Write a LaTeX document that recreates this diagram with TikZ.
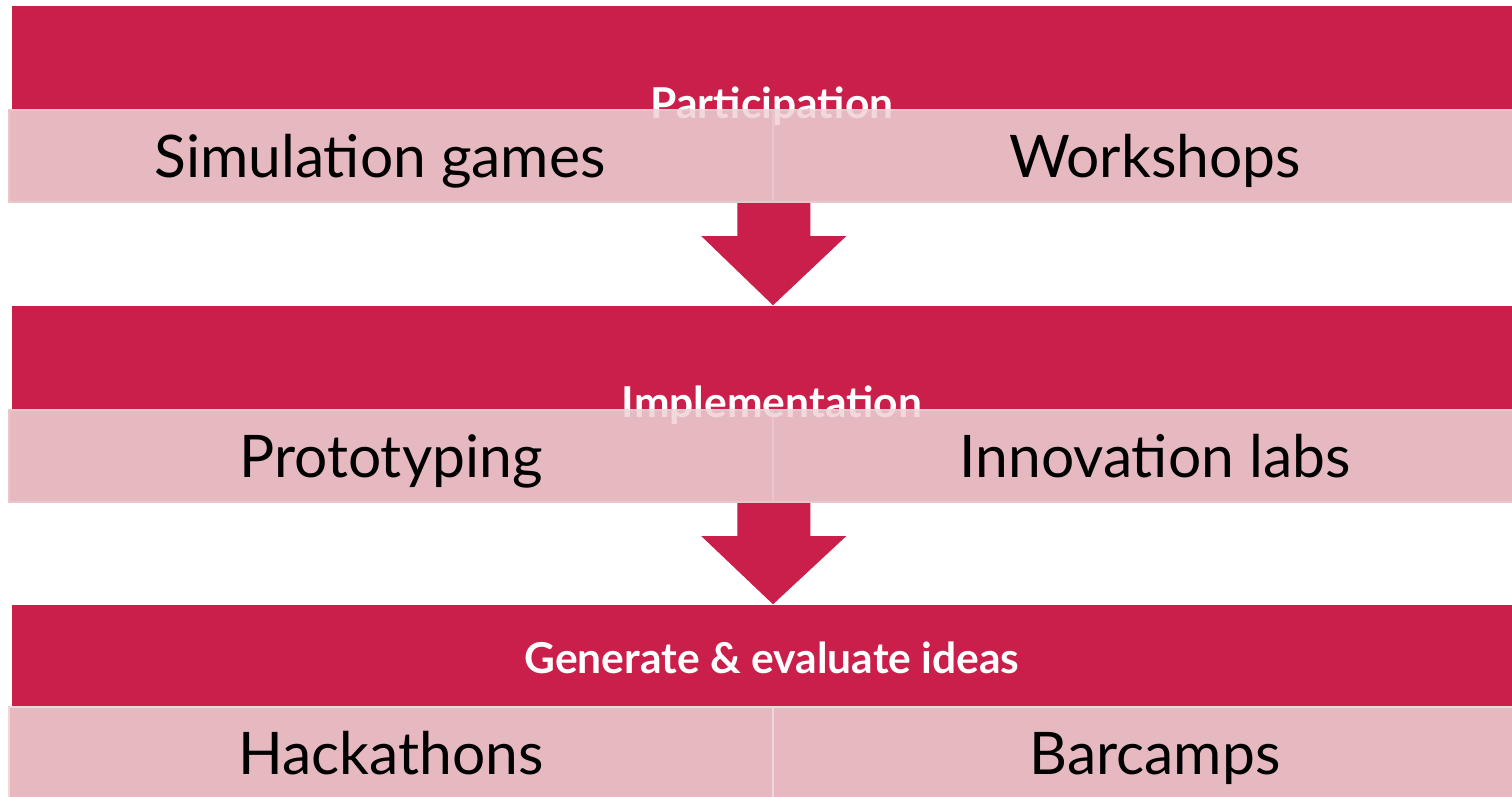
\documentclass[tikz,border=0pt]{standalone}
\usepackage{fontspec}
\setmainfont{Lato}
\usetikzlibrary{positioning,calc}
\definecolor{hdrred}{HTML}{C91F4A}
\definecolor{cellpink}{HTML}{E6B8BF}
\definecolor{cellline}{HTML}{F0D6DA}
\tikzstyle{header} = [fill=hdrred, draw=none, minimum width=15.22cm, minimum height=1.04cm, inner sep=0]
\tikzstyle{cell} = [fill=cellpink, draw=cellline, line width=0.6pt, minimum width=7.64cm, minimum height=0.92cm, inner sep=0]
\tikzstyle{hdrtext} = [text=white, font=\fontsize{12.1}{14}\selectfont\bfseries, anchor=base, inner sep=0]
\tikzstyle{celltext} = [text=black, font=\fontsize{16.7}{20}\selectfont, anchor=base, inner sep=0]

\begin{document}
\begin{tikzpicture}[x=0.01cm, y=-0.01cm]
\path[use as bounding box, clip] (0,0) rectangle (1512,796);
\fill[white] (0,0) rectangle (1512,796);

% red header bands
\node[header] (hdr1) at (773,58) {};
\node[header] (hdr2) at (773,358) {};
\node[header] (hdr3) at (773,657) {};

% pink cells
\node[cell] (sim) at (391,156) {};
\node[cell] (work) at (1155,156) {};
\node[cell] (proto) at (391,456) {};
\node[cell] (innov) at (1155,456) {};
\node[cell] (hack) at (391,753) {};
\node[cell] (bar) at (1155,753) {};

% block arrows between rows
\foreach \a/\b in {sim/hdr2, proto/hdr3}
  \fill[hdrred] ($(\a.south east)+(-37,0)$) -- ++(73,0) -- ++(0,33) -- ++(36,0)
    -- (\b.north) -- ($(\a.south east)+(-73,33)$) -- ++(36,0) -- cycle;

% header titles, partly under the cells
\node[hdrtext] (parttxt) at ($(hdr1.center)+(-1,60)$) {Participation};
\node[hdrtext] (impltxt) at ($(hdr2.center)+(-1,59)$) {Implementation};
\node[hdrtext] (gentxt) at ($(hdr3.center)+(-1,16)$) {Generate \& evaluate ideas};
\fill[cellpink, fill opacity=0.55] (sim.north west) rectangle (work.south east);
\fill[cellpink, fill opacity=0.55] (proto.north west) rectangle (innov.south east);

\node[celltext] (simtxt) at ($(sim.center)+(-11,21.5)$) {Simulation games};
\node[celltext] (worktxt) at ($(work.center)+(0,21.5)$) {Workshops};
\node[celltext] (prototxt) at ($(proto.center)+(0,21.5)$) {Prototyping};
\node[celltext] (innovtxt) at ($(innov.center)+(0,21.5)$) {Innovation labs};
\node[celltext] (hacktxt) at ($(hack.center)+(0,21.5)$) {Hackathons};
\node[celltext] (bartxt) at ($(bar.center)+(0,21.5)$) {Barcamps};
\end{tikzpicture}
\end{document}
